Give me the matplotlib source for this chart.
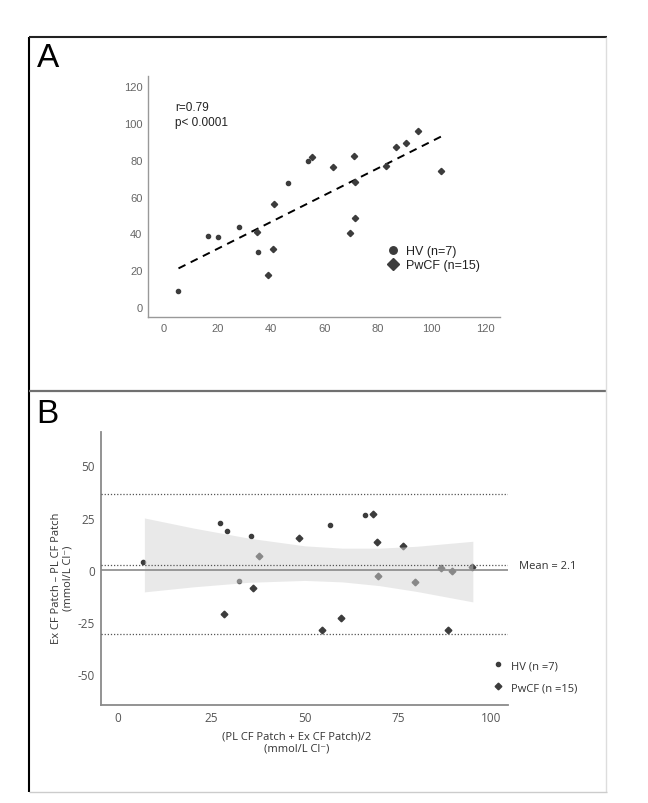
import matplotlib
matplotlib.use('Agg')
import matplotlib.pyplot as plt
from matplotlib.lines import Line2D

plt.rcParams['axes.unicode_minus'] = False

# ---- panel A: Ex CF patch vs PL CF patch ----
hv_a_x = [5.4, 16.6, 20.1, 27.9, 35.2, 46.4, 53.8]
hv_a_y = [8.5, 38.4, 38.2, 43.6, 29.7, 67.4, 79.3]
cf_a_x = [34.9, 38.9, 40.6, 41.0, 55.4, 63.2, 69.5, 71.2, 71.4, 71.5, 82.9, 86.7, 90.3, 95.0, 103.7]
cf_a_y = [40.9, 17.6, 31.7, 56.2, 81.7, 76.1, 40.2, 82.1, 67.9, 48.4, 76.4, 87.1, 88.9, 95.7, 73.7]
fit_x = [5.4, 103.7]
fit_y = [21.0, 92.7]
ticks_a = [0, 20, 40, 60, 80, 100, 120]

# ---- panel B: Bland-Altman ----
hv_b_x = [6.7, 27.3, 29.1, 32.3, 35.6, 56.6, 66.2]
hv_b_y = [3.8, 22.4, 18.5, -5.4, 16.1, 21.4, 26.0]
cf_b_x = [28.2, 36.0, 37.6, 48.3, 54.6, 59.6, 68.3, 69.4, 69.5, 76.3, 79.4, 86.6, 88.3, 89.3, 94.9]
cf_b_y = [-21.1, -8.6, 6.5, 15.3, -29.1, -23.0, 26.8, 13.4, -3.0, 11.3, -5.8, 1.0, -29.2, -0.9, 1.4]
bias = 2.1
upper_loa = 36.3
lower_loa = -31.0
band_x = [7, 20, 35, 50, 60, 70, 80, 95]
band_lo = [-10.7, -8.3, -6.1, -5.2, -5.9, -7.7, -10.5, -15.5]
band_hi = [24.8, 20.0, 15.1, 11.4, 10.3, 10.3, 11.2, 13.6]
xticks_b = [0, 25, 50, 75, 100]
yticks_b = [-50, -25, 0, 25, 50]

W, H = 648, 804
font_a = ['Liberation Sans Narrow', 'Liberation Sans', 'DejaVu Sans']
font_b = ['Open Sans', 'DejaVu Sans']
dark = '#3c3c3c'

fig = plt.figure(figsize=(W / 100, H / 100), dpi=100)


def px_line(xs, ys, color, lw):
    # frame lines given in pixel positions of the figure
    fig.add_artist(Line2D([x / W for x in xs], [1 - y / H for y in ys],
                          color=color, lw=lw, solid_capstyle='butt'))


def px_axes(left, top, right, bottom):
    return fig.add_axes([left / W, 1 - bottom / H, (right - left) / W, (bottom - top) / H])


# outer frame
px_line([29, 29], [38, 793], 'black', 1.5)
px_line([29, 607], [38.3, 38.3], '#222222', 1.5)
px_line([29, 607], [391.7, 391.7], '#707070', 1.6)
px_line([606, 606], [38, 793], '#dddddd', 1.0)
px_line([29, 607], [792.7, 792.7], '#cccccc', 1.0)

fig.text(37 / W, 1 - 43 / H, 'A', fontsize=24, family=['Liberation Sans', 'DejaVu Sans'],
         ha='left', va='top')
fig.text(36 / W, 1 - 399 / H, 'B', fontsize=24, family=['Liberation Sans', 'DejaVu Sans'],
         ha='left', va='top')

# ---------------- panel A ----------------
ax = px_axes(148, 77, 500, 318)
ax.plot(fit_x, fit_y, color='black', lw=1.4, ls=(0, (4, 3)), zorder=2)
ax.plot(hv_a_x, hv_a_y, 'o', ls='none', ms=3, color=dark, label='HV (n=7)', zorder=3)
ax.plot(cf_a_x, cf_a_y, 'D', ls='none', ms=3.2, color=dark, label='PwCF (n=15)', zorder=3)
ax.set_xlim(-6, 125.6)
ax.set_ylim(-5.4, 125.5)
ax.set_xticks(ticks_a)
ax.set_yticks(ticks_a)
for s in ['top', 'right']:
    ax.spines[s].set_visible(False)
for s in ['left', 'bottom']:
    ax.spines[s].set_color('#999999')
    ax.spines[s].set_linewidth(1.0)
ax.tick_params(length=0, pad=4, labelsize=8, labelcolor='#666666', labelfontfamily=font_a)
ax.text(0.077, 0.895, 'r=0.79\np< 0.0001', transform=ax.transAxes, fontsize=8.5,
        family=font_a, ha='left', va='top', linespacing=1.3, color='#222222')
leg = ax.legend(loc='center left', bbox_to_anchor=(0.65, 0.243), frameon=False,
                markerscale=1.8, handlelength=0.8, handletextpad=0.6, labelspacing=0.15,
                prop={'family': font_a, 'size': 9})
for t in leg.get_texts():
    t.set_color('#222222')

# ---------------- panel B ----------------
bx = px_axes(100.7, 432.7, 508.3, 706)
bx.plot(hv_b_x, hv_b_y, 'o', ls='none', ms=3, color=dark, label='HV (n =7)', zorder=2)
bx.plot(cf_b_x, cf_b_y, 'D', ls='none', ms=3.4, color=dark, label='PwCF (n =15)', zorder=2)
bx.fill_between(band_x, band_lo, band_hi, color='#d4d4d4', alpha=0.5, lw=0, zorder=3)
bx.axhline(0, color='#8a8a8a', lw=1.2, zorder=4)
for yv in [upper_loa, bias, lower_loa]:
    bx.axhline(yv, color='#555555', lw=0.9, ls=(0, (1, 1.5)), zorder=4)
bx.set_xlim(-4.7, 104.5)
bx.set_ylim(-65, 66.2)
bx.set_xticks(xticks_b)
bx.set_yticks(yticks_b)
for s in ['top', 'right']:
    bx.spines[s].set_visible(False)
for s in ['left', 'bottom']:
    bx.spines[s].set_color('#8a8a8a')
    bx.spines[s].set_linewidth(1.3)
bx.tick_params(length=0, pad=4, labelsize=8.5, labelcolor='#555555', labelfontfamily=font_b)
bx.annotate('Mean = 2.1', xy=(1.026, bias), xycoords=('axes fraction', 'data'),
            fontsize=8, family=font_b, ha='left', va='center', color='#333333')
bx.set_xlabel('(PL CF Patch + Ex CF Patch)/2\n(mmol/L Cl\u207b)', fontsize=8,
              family=font_b, color='#333333', linespacing=1.1)
bx.xaxis.set_label_coords(0.481, -0.095)
bx.set_ylabel('Ex CF Patch \u2013 PL CF Patch\n(mmol/L Cl\u207b)', fontsize=8,
              family=font_b, color='#333333', linespacing=1.1)
bx.yaxis.set_label_coords(-0.066, 0.468)
leg_b = bx.legend(loc='center left', bbox_to_anchor=(0.94, 0.104), frameon=False,
                  handlelength=0.8, handletextpad=0.7, labelspacing=1.0,
                  prop={'family': font_b, 'size': 8})
for t in leg_b.get_texts():
    t.set_color('#333333')

fig.savefig('out.png', dpi=100)
